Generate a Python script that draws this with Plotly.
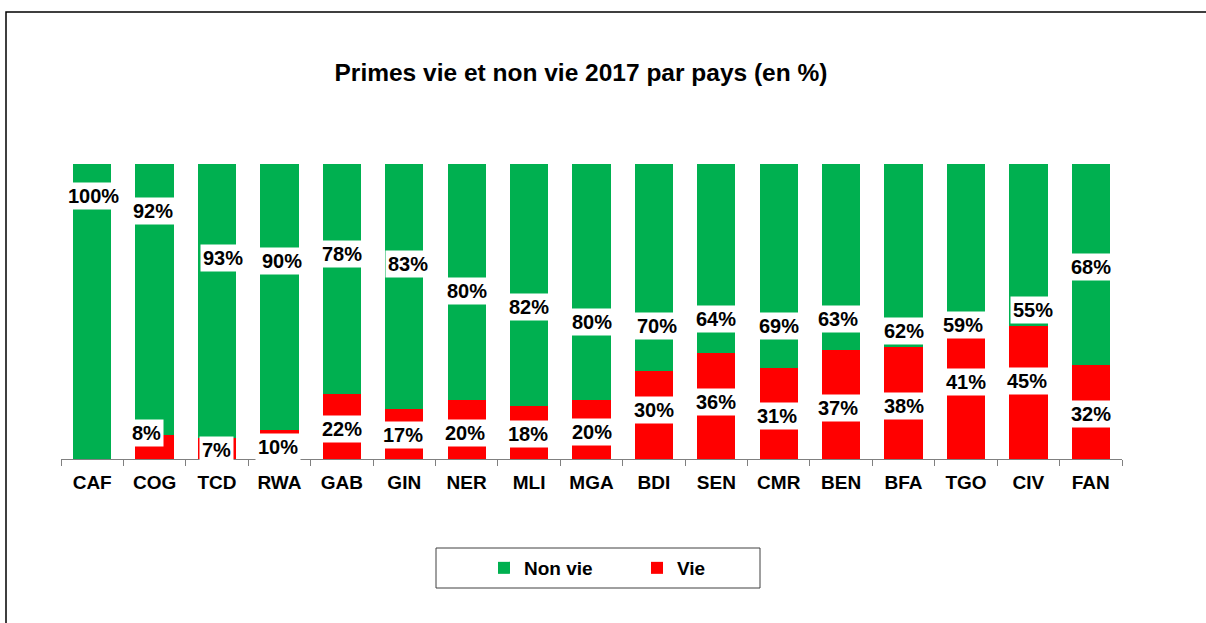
import plotly.graph_objects as go

# ---- data ----
countries = ["CAF", "COG", "TCD", "RWA", "GAB", "GIN", "NER", "MLI", "MGA",
             "BDI", "SEN", "CMR", "BEN", "BFA", "TGO", "CIV", "FAN"]
non_vie = [100, 92, 93, 90, 78, 83, 80, 82, 80, 70, 64, 69, 63, 62, 59, 55, 68]
vie = [0, 8, 7, 10, 22, 17, 20, 18, 20, 30, 36, 31, 37, 38, 41, 45, 32]
title_text = "Primes vie et non vie 2017 par pays (en %)"

# ---- label placement (positions only, in axis units / px shifts) ----
nonvie_label_y = [89.3, 84.1, 68.1, 67.1, 69.5, 66.1, 57.1, 51.5, 46.5,
                  45.2, 47.5, 45.1, 47.5, 43.4, 45.4, 50.5, 65.2]
vie_label_y = [None, 8.8, 3.1, 4.2, 10.2, 8.1, 8.9, 8.5, 9.3,
               16.6, 19.3, 14.7, 17.3, 18.0, 26.2, 26.5, 15.3]
nonvie_xshift = [1, -2, 6, 3, 0, 4, 0, 0, 0, 3, 0, 0, -3, 0, -3, 5, 0]
vie_xshift = [0, -8, -1, -1, 0, -1, -2, -1, 0, 0, 0, -2, -3, 0, 0, -1, 0]

GREEN = "#00B050"
RED = "#FF0000"
FONT = "Arial, Liberation Sans, sans-serif"

fig = go.Figure()
fig.add_trace(go.Bar(x=countries, y=vie, name="Vie", marker=dict(color=RED, line=dict(width=0))))
fig.add_trace(go.Bar(x=countries, y=non_vie, name="Non vie", marker=dict(color=GREEN, line=dict(width=0))))

annotations = []
for i, c in enumerate(countries):
    annotations.append(dict(x=c, y=nonvie_label_y[i], xref="x", yref="y",
                            text=f"<b>{non_vie[i]}%</b>", showarrow=False,
                            font=dict(family=FONT, size=20, color="black"),
                            bgcolor="white", borderpad=2, xshift=nonvie_xshift[i]))
    if vie_label_y[i] is not None:
        annotations.append(dict(x=c, y=vie_label_y[i], xref="x", yref="y",
                                text=f"<b>{vie[i]}%</b>", showarrow=False,
                                font=dict(family=FONT, size=20, color="black"),
                                bgcolor="white", borderpad=2, xshift=vie_xshift[i]))

# plot area geometry (px)
L, R, T, B = 61, 84, 164, 164
W, H = 1206, 623
pw, ph = W - L - R, H - T - B

def px_x(v):
    return (v - L) / pw

def px_y(v):
    return (H - B - v) / ph

shapes = [
    # outer chart frame (extends past window on right and bottom)
    dict(type="rect", xref="paper", yref="paper",
         x0=px_x(6), x1=px_x(1300), y0=px_y(12), y1=px_y(800),
         line=dict(color="black", width=1.5), fillcolor="rgba(0,0,0,0)", layer="below"),
    # legend box
    dict(type="rect", xref="paper", yref="paper",
         x0=px_x(436), x1=px_x(760), y0=px_y(548), y1=px_y(588),
         line=dict(color="#404040", width=1), fillcolor="white", layer="below"),
]

fig.update_layout(
    width=W, height=H,
    margin=dict(l=L, r=R, t=T, b=B),
    paper_bgcolor="white", plot_bgcolor="white",
    barmode="stack", bargap=0.386,
    title=dict(text=f"<b>{title_text}</b>", x=px_x(581), xref="paper",
               y=1 - 72 / H, yref="container", xanchor="center", yanchor="middle",
               font=dict(family=FONT, size=24.5, color="black")),
    xaxis=dict(showline=True, linecolor="#808080", linewidth=1.2,
               ticks="outside", tickson="boundaries", ticklen=6, tickcolor="#808080",
               ticklabelstandoff=6,
               tickfont=dict(family=FONT, size=19, color="black", weight="bold")),
    yaxis=dict(range=[0, 100], visible=False, showgrid=False),
    showlegend=True,
    legend=dict(orientation="h", x=px_x(484), xanchor="left", y=px_y(568), yanchor="middle",
                traceorder="reversed", entrywidth=108, entrywidthmode="pixels",
                font=dict(family=FONT, size=19, color="black", weight="bold"),
                bgcolor="rgba(0,0,0,0)", borderwidth=0),
    annotations=annotations,
    shapes=shapes,
)

fig.write_html("out.html", config={"displayModeBar": False},
               post_script="document.body.style.margin='0';document.body.style.overflow='hidden';")
